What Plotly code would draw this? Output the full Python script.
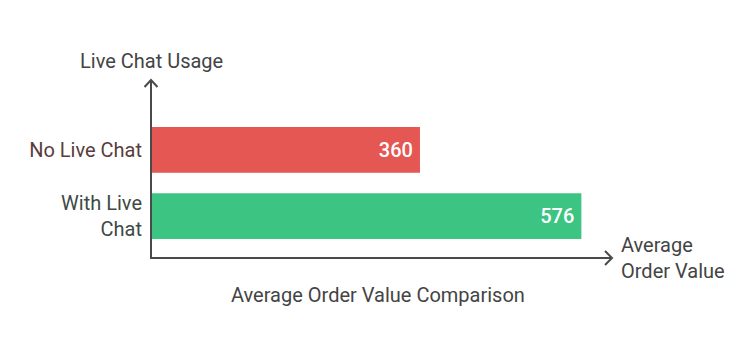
import plotly.graph_objects as go

categories = ["With Live Chat", "No Live Chat"]
tick_labels = ['<span style="color:#3d4a45">With Live<br>Chat</span>',
               '<span style="color:#5a3c3c">No Live Chat</span>']
values = [576, 360]
bar_colors = ["#3CC483", "#E55753"]
value_labels = ["576", "360"]

W, H = 752, 356
L, R, T, B = 151, 140, 80, 97.5
FS = 20

def px(x):
    return (x - L) / (W - L - R)

def py(y):
    return 1 - (y - T) / (H - T - B)

fig = go.Figure(go.Bar(
    x=values, y=categories, orientation="h",
    marker=dict(color=bar_colors, line=dict(width=0)),
    width=0.69,
    text=[v + "\u2009" for v in value_labels],
    textposition="inside", insidetextanchor="end",
    textfont=dict(color="white", size=FS, family="Roboto", weight=500),
    cliponaxis=False,
))

line_col = "#4a4a4a"
shapes = [
    dict(type="line", xref="paper", yref="paper", x0=0, x1=0, y0=py(259), y1=1,
         line=dict(color=line_col, width=2)),
    dict(type="line", xref="paper", yref="paper", x0=px(150), x1=1, y0=0, y1=0,
         line=dict(color=line_col, width=2)),
    dict(type="path", xref="paper", yref="paper",
         path=f"M {px(144.5)} {py(87)} L {px(151)} {py(80)} L {px(157.5)} {py(87)}",
         line=dict(color=line_col, width=2)),
    dict(type="path", xref="paper", yref="paper",
         path=f"M {px(605)} {py(251.5)} L {px(612)} {py(258.5)} L {px(605)} {py(265.5)}",
         line=dict(color=line_col, width=2)),
]

annotations = [
    dict(text="Live Chat Usage", xref="paper", yref="paper", x=px(151), y=py(61),
         xanchor="center", yanchor="middle", showarrow=False,
         font=dict(size=FS, color="#444444", family="Roboto")),
    dict(text="Average<br>Order Value", xref="paper", yref="paper", x=px(619), y=py(258),
         xanchor="left", yanchor="middle", align="left", showarrow=False,
         font=dict(size=FS, color="#444444", family="Roboto")),
    dict(text="Average Order Value Comparison", xref="paper", yref="paper", x=px(378), y=py(296),
         xanchor="center", yanchor="middle", showarrow=False,
         font=dict(size=FS, color="#444444", family="Roboto")),
]

fig.update_layout(
    width=W, height=H,
    margin=dict(l=L, r=R, t=T, b=B, pad=0),
    paper_bgcolor="white", plot_bgcolor="white",
    showlegend=False,
    font=dict(family="Roboto", size=FS, color="#444444"),
    xaxis=dict(range=[0, 617], showgrid=False, zeroline=False, showticklabels=False,
               showline=False, fixedrange=True),
    yaxis=dict(type="category", categoryarray=categories, range=[-0.632, 2.053],
               tickvals=categories, ticktext=tick_labels,
               showgrid=False, zeroline=False, showline=False, ticks="",
               ticklabelstandoff=8, tickfont=dict(size=FS, family="Roboto"),
               fixedrange=True),
    shapes=shapes, annotations=annotations,
)

fig.write_html("out.html")
